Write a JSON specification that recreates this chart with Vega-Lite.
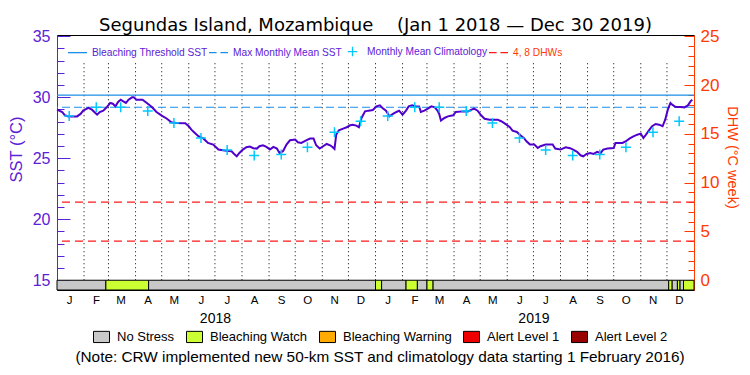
{
  "$schema": "https://vega.github.io/schema/vega-lite/v6.json",
  "width": 637,
  "height": 255,
  "autosize": {"type": "none"},
  "padding": {"left": 57, "top": 35, "right": 56, "bottom": 85},
  "background": "white",
  "config": {
    "view": {"stroke": "black", "strokeWidth": 1},
    "font": "Liberation Sans",
    "axis": {"labelFont": "Liberation Sans", "titleFont": "Liberation Sans", "titleFontWeight": "normal"},
    "legend": {"labelFont": "Liberation Sans", "titleFont": "Liberation Sans"}
  },
  "title": {
    "text": "Segundas Island, Mozambique\u2002\u2002\u00a0(Jan 1 2018 \u2014 Dec 30 2019)",
    "font": "DejaVu Sans",
    "fontSize": 18,
    "fontWeight": "normal",
    "color": "black",
    "anchor": "middle",
    "offset": 4,
    "dy": 12
  },
  "datasets": {
    "sst": [
      {"date": "2018-01-01", "sst": 28.98}, {"date": "2018-01-07", "sst": 28.79}, {"date": "2018-01-10", "sst": 28.52},
      {"date": "2018-01-14", "sst": 28.43}, {"date": "2018-01-24", "sst": 28.43}, {"date": "2018-01-28", "sst": 28.63},
      {"date": "2018-01-31", "sst": 28.90}, {"date": "2018-02-06", "sst": 29.12}, {"date": "2018-02-10", "sst": 28.98},
      {"date": "2018-02-14", "sst": 28.71}, {"date": "2018-02-16", "sst": 28.57}, {"date": "2018-02-19", "sst": 28.79},
      {"date": "2018-02-23", "sst": 28.90}, {"date": "2018-02-27", "sst": 29.17}, {"date": "2018-03-03", "sst": 29.53},
      {"date": "2018-03-06", "sst": 29.47}, {"date": "2018-03-09", "sst": 29.25}, {"date": "2018-03-12", "sst": 29.61},
      {"date": "2018-03-15", "sst": 29.80}, {"date": "2018-03-18", "sst": 29.66}, {"date": "2018-03-21", "sst": 29.53},
      {"date": "2018-03-24", "sst": 29.80}, {"date": "2018-03-28", "sst": 29.99}, {"date": "2018-03-30", "sst": 29.99},
      {"date": "2018-04-02", "sst": 29.80}, {"date": "2018-04-09", "sst": 29.80}, {"date": "2018-04-14", "sst": 29.53},
      {"date": "2018-04-20", "sst": 29.17}, {"date": "2018-04-25", "sst": 28.79}, {"date": "2018-05-01", "sst": 28.49},
      {"date": "2018-05-07", "sst": 28.24}, {"date": "2018-05-12", "sst": 27.94}, {"date": "2018-05-18", "sst": 27.89},
      {"date": "2018-05-28", "sst": 27.86}, {"date": "2018-06-01", "sst": 27.62}, {"date": "2018-06-04", "sst": 27.34},
      {"date": "2018-06-08", "sst": 27.07}, {"date": "2018-06-12", "sst": 26.80}, {"date": "2018-06-18", "sst": 26.60},
      {"date": "2018-06-23", "sst": 26.25}, {"date": "2018-06-29", "sst": 26.12}, {"date": "2018-07-05", "sst": 25.71},
      {"date": "2018-07-12", "sst": 25.63}, {"date": "2018-07-20", "sst": 25.57}, {"date": "2018-07-23", "sst": 25.35},
      {"date": "2018-07-26", "sst": 25.16}, {"date": "2018-07-29", "sst": 25.43}, {"date": "2018-08-02", "sst": 25.71},
      {"date": "2018-08-06", "sst": 25.90}, {"date": "2018-08-10", "sst": 25.95}, {"date": "2018-08-14", "sst": 25.82},
      {"date": "2018-08-18", "sst": 25.79}, {"date": "2018-08-21", "sst": 25.98}, {"date": "2018-08-25", "sst": 26.06},
      {"date": "2018-08-29", "sst": 25.93}, {"date": "2018-09-02", "sst": 25.71}, {"date": "2018-09-06", "sst": 25.93},
      {"date": "2018-09-10", "sst": 25.79}, {"date": "2018-09-13", "sst": 25.43}, {"date": "2018-09-17", "sst": 25.57},
      {"date": "2018-09-21", "sst": 26.12}, {"date": "2018-09-25", "sst": 26.47}, {"date": "2018-10-01", "sst": 26.53},
      {"date": "2018-10-04", "sst": 26.31}, {"date": "2018-10-08", "sst": 26.25}, {"date": "2018-10-13", "sst": 26.44},
      {"date": "2018-10-18", "sst": 26.61}, {"date": "2018-10-22", "sst": 26.61}, {"date": "2018-10-25", "sst": 26.06},
      {"date": "2018-10-29", "sst": 25.79}, {"date": "2018-11-02", "sst": 25.98}, {"date": "2018-11-06", "sst": 26.17},
      {"date": "2018-11-10", "sst": 26.06}, {"date": "2018-11-13", "sst": 25.90}, {"date": "2018-11-15", "sst": 25.76},
      {"date": "2018-11-17", "sst": 26.93}, {"date": "2018-11-20", "sst": 27.29}, {"date": "2018-11-25", "sst": 27.43},
      {"date": "2018-11-29", "sst": 27.54}, {"date": "2018-12-03", "sst": 27.70}, {"date": "2018-12-06", "sst": 27.75},
      {"date": "2018-12-10", "sst": 27.67}, {"date": "2018-12-13", "sst": 27.54}, {"date": "2018-12-16", "sst": 28.30},
      {"date": "2018-12-20", "sst": 28.84}, {"date": "2018-12-24", "sst": 28.90}, {"date": "2018-12-29", "sst": 28.95},
      {"date": "2019-01-02", "sst": 29.25}, {"date": "2019-01-06", "sst": 29.33}, {"date": "2019-01-09", "sst": 29.12},
      {"date": "2019-01-13", "sst": 28.90}, {"date": "2019-01-17", "sst": 28.43}, {"date": "2019-01-21", "sst": 28.63},
      {"date": "2019-01-25", "sst": 28.79}, {"date": "2019-01-28", "sst": 28.90}, {"date": "2019-02-01", "sst": 28.57},
      {"date": "2019-02-05", "sst": 28.90}, {"date": "2019-02-08", "sst": 29.25}, {"date": "2019-02-12", "sst": 29.33},
      {"date": "2019-02-16", "sst": 29.25}, {"date": "2019-02-20", "sst": 29.25}, {"date": "2019-02-22", "sst": 28.79},
      {"date": "2019-02-26", "sst": 28.90}, {"date": "2019-03-02", "sst": 29.06}, {"date": "2019-03-06", "sst": 29.25},
      {"date": "2019-03-10", "sst": 29.17}, {"date": "2019-03-13", "sst": 28.90}, {"date": "2019-03-15", "sst": 28.63},
      {"date": "2019-03-17", "sst": 28.08}, {"date": "2019-03-21", "sst": 28.30}, {"date": "2019-03-25", "sst": 28.43},
      {"date": "2019-03-31", "sst": 28.52}, {"date": "2019-04-03", "sst": 28.79}, {"date": "2019-04-11", "sst": 28.84},
      {"date": "2019-04-17", "sst": 28.84}, {"date": "2019-04-21", "sst": 28.98}, {"date": "2019-04-24", "sst": 29.06},
      {"date": "2019-04-28", "sst": 28.90}, {"date": "2019-05-02", "sst": 28.52}, {"date": "2019-05-06", "sst": 28.24},
      {"date": "2019-05-12", "sst": 28.16}, {"date": "2019-05-21", "sst": 28.16}, {"date": "2019-05-25", "sst": 28.03},
      {"date": "2019-05-29", "sst": 27.86}, {"date": "2019-06-04", "sst": 27.54}, {"date": "2019-06-07", "sst": 27.26},
      {"date": "2019-06-12", "sst": 27.15}, {"date": "2019-06-16", "sst": 26.88}, {"date": "2019-06-20", "sst": 26.66},
      {"date": "2019-06-23", "sst": 26.39}, {"date": "2019-06-27", "sst": 26.12}, {"date": "2019-07-02", "sst": 26.12},
      {"date": "2019-07-06", "sst": 25.84}, {"date": "2019-07-09", "sst": 25.98}, {"date": "2019-07-15", "sst": 26.12},
      {"date": "2019-07-23", "sst": 26.12}, {"date": "2019-07-26", "sst": 25.79}, {"date": "2019-08-01", "sst": 25.71},
      {"date": "2019-08-07", "sst": 25.90}, {"date": "2019-08-12", "sst": 25.82}, {"date": "2019-08-16", "sst": 25.68},
      {"date": "2019-08-20", "sst": 25.52}, {"date": "2019-08-24", "sst": 25.24}, {"date": "2019-08-27", "sst": 25.16},
      {"date": "2019-08-31", "sst": 25.35}, {"date": "2019-09-04", "sst": 25.43}, {"date": "2019-09-08", "sst": 25.35},
      {"date": "2019-09-12", "sst": 25.52}, {"date": "2019-09-16", "sst": 25.43}, {"date": "2019-09-19", "sst": 25.71},
      {"date": "2019-09-24", "sst": 25.79}, {"date": "2019-10-01", "sst": 25.84}, {"date": "2019-10-03", "sst": 26.25},
      {"date": "2019-10-11", "sst": 26.25}, {"date": "2019-10-15", "sst": 26.39}, {"date": "2019-10-19", "sst": 26.61},
      {"date": "2019-10-23", "sst": 26.77}, {"date": "2019-10-28", "sst": 26.93}, {"date": "2019-11-01", "sst": 27.02},
      {"date": "2019-11-04", "sst": 26.66}, {"date": "2019-11-07", "sst": 26.93}, {"date": "2019-11-11", "sst": 27.34},
      {"date": "2019-11-14", "sst": 27.62}, {"date": "2019-11-18", "sst": 27.81}, {"date": "2019-11-22", "sst": 27.75},
      {"date": "2019-11-26", "sst": 27.62}, {"date": "2019-11-29", "sst": 28.16}, {"date": "2019-12-02", "sst": 28.98},
      {"date": "2019-12-05", "sst": 29.53}, {"date": "2019-12-07", "sst": 29.39}, {"date": "2019-12-11", "sst": 29.20},
      {"date": "2019-12-17", "sst": 29.20}, {"date": "2019-12-21", "sst": 29.17}, {"date": "2019-12-25", "sst": 29.33},
      {"date": "2019-12-28", "sst": 29.66}, {"date": "2019-12-30", "sst": 29.80}
    ],
    "clim": [
      {"date": "2018-01-15", "sst": 28.47}, {"date": "2018-02-15", "sst": 29.18}, {"date": "2018-03-15", "sst": 29.17},
      {"date": "2018-04-15", "sst": 28.87}, {"date": "2018-05-15", "sst": 27.89}, {"date": "2018-06-15", "sst": 26.66},
      {"date": "2018-07-15", "sst": 25.67}, {"date": "2018-08-15", "sst": 25.22}, {"date": "2018-09-15", "sst": 25.30},
      {"date": "2018-10-15", "sst": 25.90}, {"date": "2018-11-15", "sst": 27.12}, {"date": "2018-12-15", "sst": 28.03},
      {"date": "2019-01-15", "sst": 28.47}, {"date": "2019-02-15", "sst": 29.18}, {"date": "2019-03-15", "sst": 29.17},
      {"date": "2019-04-15", "sst": 28.87}, {"date": "2019-05-15", "sst": 27.89}, {"date": "2019-06-15", "sst": 26.66},
      {"date": "2019-07-15", "sst": 25.67}, {"date": "2019-08-15", "sst": 25.22}, {"date": "2019-09-15", "sst": 25.30},
      {"date": "2019-10-15", "sst": 25.90}, {"date": "2019-11-15", "sst": 27.12}, {"date": "2019-12-15", "sst": 28.03}
    ],
    "stress": [
      {"start": "2018-01-01", "end": "2018-02-26", "level": "No Stress"},
      {"start": "2018-02-26", "end": "2018-04-16", "level": "Bleaching Watch"},
      {"start": "2018-04-16", "end": "2019-01-01", "level": "No Stress"},
      {"start": "2019-01-01", "end": "2019-01-08", "level": "Bleaching Watch"},
      {"start": "2019-01-08", "end": "2019-02-05", "level": "No Stress"},
      {"start": "2019-02-05", "end": "2019-02-18", "level": "Bleaching Watch"},
      {"start": "2019-02-18", "end": "2019-03-01", "level": "No Stress"},
      {"start": "2019-03-01", "end": "2019-03-08", "level": "Bleaching Watch"},
      {"start": "2019-03-08", "end": "2019-12-03", "level": "No Stress"},
      {"start": "2019-12-03", "end": "2019-12-07", "level": "Bleaching Watch"},
      {"start": "2019-12-07", "end": "2019-12-13", "level": "No Stress"},
      {"start": "2019-12-13", "end": "2019-12-16", "level": "Bleaching Watch"},
      {"start": "2019-12-16", "end": "2019-12-20", "level": "No Stress"},
      {"start": "2019-12-20", "end": "2020-01-01", "level": "Bleaching Watch"}
    ],
    "months": [
      {"date": "2018-02-01"}, {"date": "2018-03-01"}, {"date": "2018-04-01"}, {"date": "2018-05-01"},
      {"date": "2018-06-01"}, {"date": "2018-07-01"}, {"date": "2018-08-01"}, {"date": "2018-09-01"},
      {"date": "2018-10-01"}, {"date": "2018-11-01"}, {"date": "2018-12-01"}, {"date": "2019-01-01"},
      {"date": "2019-02-01"}, {"date": "2019-03-01"}, {"date": "2019-04-01"}, {"date": "2019-05-01"},
      {"date": "2019-06-01"}, {"date": "2019-07-01"}, {"date": "2019-08-01"}, {"date": "2019-09-01"},
      {"date": "2019-10-01"}, {"date": "2019-11-01"}, {"date": "2019-12-01"}
    ],
    "thresholds": [
      {"series": "Bleaching Threshold SST", "sst": 30.18},
      {"series": "Max Monthly Mean SST", "sst": 29.18}
    ],
    "dhw": [{"dhw": 4}, {"dhw": 8}],
    "legendItems": [
      {"series": "Bleaching Threshold SST"},
      {"series": "Max Monthly Mean SST"},
      {"series": "Monthly Mean Climatology"},
      {"series": "4, 8 DHWs"}
    ]
  },
  "layer": [
    {
      "data": {"name": "months"},
      "mark": {"type": "rule", "stroke": "black", "strokeDash": [1, 3], "strokeWidth": 1},
      "encoding": {
        "x": {
          "field": "date", "type": "temporal",
          "scale": {"type": "utc", "domain": [{"year": 2018, "month": 1, "date": 1, "utc": true}, {"year": 2020, "month": 1, "date": 1, "utc": true}]},
          "axis": {
            "orient": "bottom",
            "values": [{"year": 2018, "month": 7, "date": 1, "utc": true}, {"year": 2019, "month": 7, "date": 1, "utc": true}],
            "format": "%Y", "ticks": false, "domain": false, "grid": false,
            "labelPadding": 21, "labelFontSize": 14, "labelColor": "black",
            "labelFlush": false, "labelOverlap": false, "title": null
          }
        },
        "y": {"datum": 15, "type": "quantitative", "scale": {"domain": [14.2, 35.1], "nice": false, "zero": false}, "axis": null},
        "y2": {"datum": 32.8}
      }
    },
    {
      "data": {"name": "dhw"},
      "mark": {"type": "rule", "stroke": "#ff1a1a", "strokeDash": [8, 5], "strokeWidth": 1.2},
      "encoding": {
        "y": {
          "field": "dhw", "type": "quantitative",
          "scale": {"domain": [-1, 25.125], "nice": false, "zero": false},
          "axis": {
            "orient": "right",
            "values": [0,1,2,3,4,5,6,7,8,9,10,11,12,13,14,15,16,17,18,19,20,21,22,23,24,25],
            "labelExpr": "datum.value % 5 === 0 ? datum.label : ''",
            "title": "DHW (\u00b0C week)", "titleColor": "#ff3a00", "titleFontSize": 14.5,
            "titleX": 37, "titleY": 122, "titleBaseline": "middle", "titleAngle": 90,
            "labelColor": "#ff3a00", "labelFontSize": 17, "tickColor": "#ff3a00", "domainColor": "#ff3a00",
            "tickSize": {"condition": {"test": "datum.value % 5 === 0", "value": -10}, "value": -6},
            "labelPadding": 16, "grid": false, "labelOverlap": false, "labelFlush": false
          }
        }
      }
    },
    {
      "data": {"name": "stress"},
      "mark": {"type": "rect", "stroke": "black", "strokeWidth": 1},
      "encoding": {
        "x": {
          "field": "start", "type": "temporal",
          "axis": {
            "orient": "bottom",
            "tickCount": {"interval": "month", "step": 1},
            "labelExpr": "utcyear(datum.value) > 2019 ? '' : substring(utcFormat(datum.value, '%b'), 0, 1)",
            "labelOffset": 12, "ticks": false, "domain": false, "grid": false,
            "labelPadding": 4, "labelFontSize": 11.5, "labelColor": "black",
            "labelFlush": false, "labelOverlap": false, "title": null
          }
        },
        "x2": {"field": "end"},
        "y": {"datum": 15, "type": "quantitative", "scale": {"domain": [14.2, 35.1], "nice": false, "zero": false}, "axis": null},
        "y2": {"datum": 14.2},
        "fill": {
          "field": "level", "type": "nominal",
          "scale": {
            "domain": ["No Stress", "Bleaching Watch", "Bleaching Warning", "Alert Level 1", "Alert Level 2"],
            "range": ["#c8c8c8", "#ccff33", "#ffaa00", "#ee0000", "#990000"]
          },
          "legend": {
            "orient": "none", "legendX": 18, "legendY": 293, "direction": "horizontal",
            "symbolType": "M-1,-0.7H1V0.7H-1Z", "symbolSize": 256,
            "symbolStrokeColor": "black", "symbolStrokeWidth": 1, "symbolOpacity": 1,
            "labelFontSize": 13, "labelColor": "black", "labelOffset": 7, "columnPadding": 9,
            "title": "(Note: CRW implemented new 50-km SST and climatology data starting 1 February 2016)",
            "titleOrient": "bottom", "titleFontSize": 15.35, "titleFontWeight": "normal", "titleColor": "black",
            "titlePadding": 5, "titleAnchor": "middle", "titleLimit": 800
          }
        }
      }
    },
    {
      "data": {"name": "thresholds"},
      "mark": {"type": "rule", "stroke": "#1c8fe8", "strokeWidth": 1.2},
      "encoding": {
        "y": {"field": "sst", "type": "quantitative", "scale": {"domain": [14.2, 35.1], "nice": false, "zero": false}, "axis": null},
        "strokeDash": {
          "field": "series", "type": "nominal",
          "scale": {"domain": ["Bleaching Threshold SST", "Max Monthly Mean SST"], "range": [[1, 0], [8, 4]]},
          "legend": null
        }
      }
    },
    {
      "data": {"name": "sst"},
      "mark": {"type": "line", "stroke": "#5000cc", "strokeWidth": 2},
      "encoding": {
        "x": {"field": "date", "type": "temporal", "axis": null},
        "y": {
          "field": "sst", "type": "quantitative",
          "scale": {"domain": [14.2, 35.1], "nice": false, "zero": false},
          "axis": {
            "orient": "left",
            "values": [15,16,17,18,19,20,21,22,23,24,25,26,27,28,29,30,31,32,33,34,35],
            "labelExpr": "datum.value % 5 === 0 ? datum.label : ''",
            "title": "SST (\u00b0C)", "titleColor": "#5c21d6", "titleFontSize": 16.5,
            "titleX": -41, "titleY": 114, "titleBaseline": "middle",
            "labelColor": "#5c21d6", "labelFontSize": 16, "tickColor": "#5c21d6", "domainColor": "#5c21d6",
            "tickSize": {"condition": {"test": "datum.value % 5 === 0", "value": -13}, "value": -7},
            "labelPadding": 20, "grid": false, "labelOverlap": false, "labelFlush": false
          }
        }
      }
    },
    {
      "data": {"name": "clim"},
      "mark": {"type": "point", "shape": "M-1,0H1M0,-1V1", "size": 100, "filled": false, "stroke": "#00c8ff", "strokeWidth": 1.5, "opacity": 1},
      "encoding": {
        "x": {"field": "date", "type": "temporal", "axis": null},
        "y": {"field": "sst", "type": "quantitative", "scale": {"domain": [14.2, 35.1], "nice": false, "zero": false}, "axis": null}
      }
    },
    {
      "data": {"name": "legendItems"},
      "transform": [{"filter": "false"}],
      "mark": {"type": "point", "filled": false, "strokeWidth": 1.3},
      "encoding": {
        "shape": {
          "field": "series", "type": "nominal",
          "scale": {
            "domain": ["Bleaching Threshold SST", "Max Monthly Mean SST", "Monthly Mean Climatology", "4, 8 DHWs"],
            "range": ["M-1,0H1", "M-1,0H-0.2M0.2,0H1", "M-0.5,0H0.5M0,-0.5V0.5", "M-1,0H-0.2M0.2,0H1"]
          },
          "legend": {
            "orient": "none", "legendX": 10, "legendY": 6, "direction": "horizontal", "title": null,
            "symbolSize": 361, "symbolStrokeWidth": 1.3, "symbolOpacity": 1,
            "labelFontSize": 10.2, "labelOffset": 4, "columnPadding": -2,
            "labelColor": {"expr": "datum.label === '4, 8 DHWs' ? '#ff3a00' : '#5c21d6'"}
          }
        },
        "stroke": {
          "field": "series", "type": "nominal",
          "scale": {
            "domain": ["Bleaching Threshold SST", "Max Monthly Mean SST", "Monthly Mean Climatology", "4, 8 DHWs"],
            "range": ["#1c8fe8", "#1c8fe8", "#00c8ff", "#ff1a1a"]
          },
          "legend": {
            "orient": "none", "legendX": 10, "legendY": 6, "direction": "horizontal", "title": null,
            "symbolSize": 361, "symbolStrokeWidth": 1.3, "symbolOpacity": 1,
            "labelFontSize": 10.2, "labelOffset": 4, "columnPadding": -2,
            "labelColor": {"expr": "datum.label === '4, 8 DHWs' ? '#ff3a00' : '#5c21d6'"}
          }
        }
      }
    }
  ],
  "resolve": {"scale": {"y": "independent"}, "axis": {"x": "independent", "y": "independent"}}
}
